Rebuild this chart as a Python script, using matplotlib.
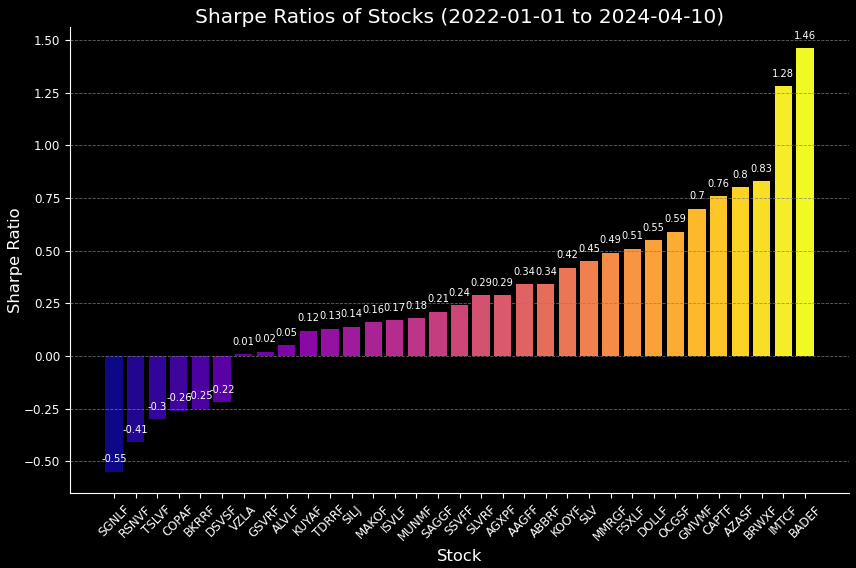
"""各股票夏普比率柱状图（2022-01-01 至 2024-04-10）。"""

import matplotlib

matplotlib.use("Agg")

import matplotlib.pyplot as plt
import numpy as np


TICKERS = [
    "SGNLF", "RSNVF", "TSLVF", "COPAF", "BKRRF", "DSVSF", "VZLA", "GSVRF",
    "ALVLF", "KUYAF", "TDRRF", "SILJ", "MAKOF", "ISVLF", "MUNMF", "SAGGF",
    "SSVFF", "SLVRF", "AGXPF", "AAGFF", "ABBRF", "KOOYF", "SLV", "MMRGF",
    "FSXLF", "DOLLF", "OCGSF", "GMVMF", "CAPTF", "AZASF", "BRWXF", "IMTCF",
    "BADEF",
]
SHARPE = [
    -0.55, -0.41, -0.3, -0.26, -0.25, -0.22, 0.01, 0.02,
    0.05, 0.12, 0.13, 0.14, 0.16, 0.17, 0.18, 0.21,
    0.24, 0.29, 0.29, 0.34, 0.34, 0.42, 0.45, 0.49,
    0.51, 0.55, 0.59, 0.7, 0.76, 0.8, 0.83, 1.28,
    1.46,
]
TITLE = "Sharpe Ratios of Stocks (2022-01-01 to 2024-04-10)"
OUTPUT_PATH = "out.png"


def main() -> None:
    plt.style.use("dark_background")
    plt.rcParams["font.family"] = ["DejaVu Sans"]

    fig = plt.figure(figsize=(8.56, 5.68), dpi=100)
    ax = fig.add_axes([0.0818, 0.132, 0.910, 0.820])

    colors = plt.cm.plasma(np.linspace(0, 1, len(TICKERS)))
    x = np.arange(len(TICKERS))
    ax.bar(x, SHARPE, color=colors, width=0.8)

    for xi, v in zip(x, SHARPE):
        ax.text(xi, v + 0.035, str(round(v, 2)), ha="center", va="bottom",
                color="white", fontsize=7.1)

    ax.set_xticks(x)
    ax.set_xticklabels(TICKERS, rotation=45, fontsize=8.6)
    ax.tick_params(axis="y", labelsize=8.6)
    ax.set_xlabel("Stock", fontsize=11.8)
    ax.set_ylabel("Sharpe Ratio", fontsize=11.8, labelpad=1)
    ax.set_title(TITLE, fontsize=14.5, pad=3)

    ax.grid(axis="y", color="gray", linestyle="--", linewidth=0.6, alpha=0.8)
    ax.set_axisbelow(False)
    ax.spines["top"].set_visible(False)
    ax.spines["right"].set_visible(False)

    fig.savefig(OUTPUT_PATH, dpi=100)
    plt.close(fig)


if __name__ == "__main__":
    main()
